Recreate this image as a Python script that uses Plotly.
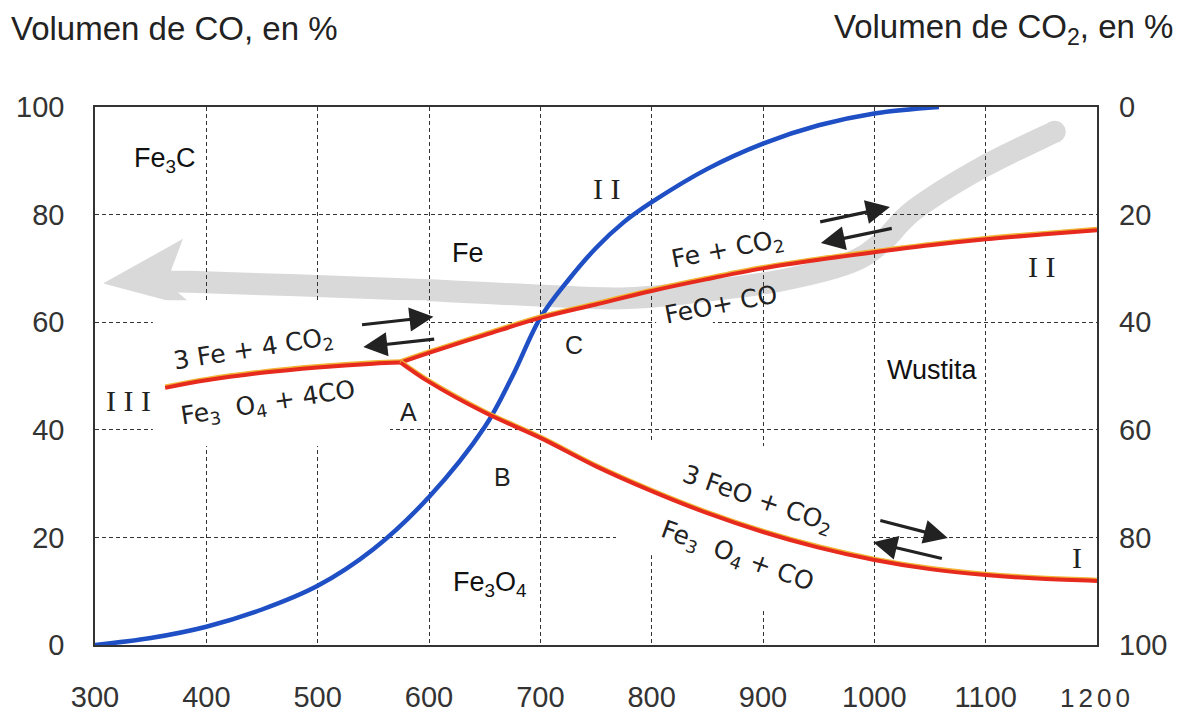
import plotly.graph_objects as go

# ---------------- data ----------------
x_ticks = [300, 400, 500, 600, 700, 800, 900, 1000, 1100, 1200]
x_ticktext = ["300", "400", "500", "600", "700", "800", "900", "1000", "1100",
              '<span style="font-size:26px;letter-spacing:4px">1200</span>']
y_ticks = [0, 20, 40, 60, 80, 100]

# Blue curve (II) - CO % vs temperature
t_blue = [300, 350, 400, 450, 500, 550, 600, 650, 675, 700, 725, 750, 775, 800, 850, 900, 950, 1000, 1058]
co_blue = [0, 1.3, 3.4, 6.6, 11, 17.8, 27.5, 40.5, 50.0, 60.8, 67.8, 73.8, 78.6, 82.3, 88.5, 93.2, 96.6, 98.8, 100]

# Red curve III (Fe3O4 / Fe)
t_red3 = [363, 400, 450, 500, 550, 574.5]
co_red3 = [47.8, 49.2, 50.6, 51.6, 52.3, 52.5]

# Red curve II (FeO / Fe)
t_red2 = [574.5, 600, 650, 700, 750, 800, 850, 900, 950, 1000, 1050, 1100, 1150, 1200]
co_red2 = [52.5, 54.3, 57.6, 60.8, 63.3, 65.8, 68.0, 70.0, 71.6, 73.0, 74.3, 75.4, 76.3, 77.1]

# Red curve I (Fe3O4 / FeO)
t_red1 = [574.5, 600, 650, 700, 750, 800, 850, 900, 950, 1000, 1050, 1100, 1150, 1200]
co_red1 = [52.5, 48.9, 43.2, 38.5, 33.2, 28.6, 24.5, 21.0, 18.1, 15.8, 14.1, 13.0, 12.3, 11.9]

# Grey process arrow (centre line, from tail to head)
t_grey = [1162, 1097, 1036, 1006, 977, 917, 856, 797, 746, 595, 475, 385, 365]
co_grey = [95.4, 88.8, 80.9, 74.7, 71.0, 67.8, 66.0, 64.7, 64.5, 66.0, 66.9, 67.5, 67.5]
t_grey_head = [311, 376.5, 367, 372, 385.5]
co_grey_head = [67.3, 74.9, 69.7, 65.6, 63.2]

# Reaction arrows (tail -> head)
arrows = [
    ((538.5, 59.5), (604, 61.0)), ((606, 56.9), (541, 55.4)),
    ((950, 78.6), (1014, 81.4)), ((1017, 77.5), (952, 74.7)),
    ((1004, 23.2), (1066, 19.9)), ((1062, 16.0), (999, 19.1)),
]

# Labels: (text, T, CO%, angle, font-kind)
labels = [
    ("Fe<sub>3</sub>C", 363, 90.1, 0, "sans"),
    ("Fe", 635, 72.9, 0, "sans"),
    ("Fe<sub>3</sub>O<sub>4</sub>", 655, 11.4, 0, "sans"),
    ("Wustita", 1052, 51.1, 0, "sans"),
    ("I I", 759.5, 84.9, 0, "serif"),
    ("I I", 1150, 70.3, 0, "serif"),
    ("I I I", 329.7, 45.5, 0, "serif"),
    ("I", 1182, 16.2, 0, "serif"),
    ("A", 581.4, 43.3, 0, "pt"),
    ("B", 666, 31.2, 0, "pt"),
    ("C", 729.8, 55.8, 0, "pt"),
    ("3 Fe + 4 CO<sub>2</sub>", 442, 54.8, -9, "rx"),
    ("Fe<sub>3</sub>  O<sub>4</sub> + 4CO", 455, 44.8, -9, "rx"),
    ("Fe + CO<sub>2</sub>", 869, 73.4, -11, "rx"),
    ("FeO+ CO", 862, 63.2, -11, "rx"),
    ("3 FeO + CO<sub>2</sub>", 895, 27.0, 19, "rx"),
    ("Fe<sub>3</sub>  O<sub>4</sub> + CO", 877, 16.4, 20, "rx"),
]

# white patches that interrupt the grid behind labels (T0, T1, CO0, CO1)
grid_gaps = [
    (352, 565, 37.0, 64.1),
    (565, 598, 55.8, 64.1),
    (804, 855, 57.1, 62.3),
    (886, 913, 69.9, 79.0),
    (880, 920, 6.5, 37.0),
    (768, 996, 18.0, 22.0),
    (795, 805, 16.7, 38.0),
]

# ---------------- figure ----------------
RED = "#e62a1e"
BLUE = "#1f4fc4"
GREY = "#d9d9d9"
SANS = "Liberation Sans, Arial, sans-serif"
SERIF = "Liberation Serif, Times New Roman, serif"
RX = "DejaVu Sans, sans-serif"

fig = go.Figure()


def catmull_path(xs, ys):
    pts = list(zip(xs, ys))
    d = f"M {pts[0][0]},{pts[0][1]}"
    for i in range(len(pts) - 1):
        p0 = pts[i - 1] if i > 0 else pts[i]
        p1 = pts[i]
        p2 = pts[i + 1]
        p3 = pts[i + 2] if i + 2 < len(pts) else pts[i + 1]
        c1 = (p1[0] + (p2[0] - p0[0]) / 6, p1[1] + (p2[1] - p0[1]) / 6)
        c2 = (p2[0] - (p3[0] - p1[0]) / 6, p2[1] - (p3[1] - p1[1]) / 6)
        d += f" C {c1[0]},{c1[1]} {c2[0]},{c2[1]} {p2[0]},{p2[1]}"
    return d


shapes = []
# grey band (below grid)
shapes.append(dict(type="path", xref="x", yref="y", layer="below",
                   path=catmull_path(t_grey, co_grey),
                   line=dict(color=GREY, width=22)))
shapes.append(dict(type="circle", xref="x", yref="y", layer="below",
                   xsizemode="pixel", ysizemode="pixel",
                   xanchor=t_grey[0], yanchor=co_grey[0],
                   x0=-11, x1=11, y0=-11, y1=11,
                   fillcolor=GREY, line=dict(width=0)))
head = "M " + " L ".join(f"{a},{b}" for a, b in zip(t_grey_head, co_grey_head)) + " Z"
shapes.append(dict(type="path", xref="x", yref="y", layer="below", path=head,
                   fillcolor=GREY, line=dict(color=GREY, width=3)))
for (x0, x1, y0, y1) in grid_gaps:
    shapes.append(dict(type="rect", xref="x", yref="y", layer="between",
                       x0=x0, x1=x1, y0=y0, y1=y1,
                       fillcolor="white", line=dict(width=0)))

fig.add_trace(go.Scatter(x=t_blue, y=co_blue, mode="lines",
                         line=dict(color=BLUE, width=4.5, shape="spline", smoothing=1),
                         showlegend=False, hoverinfo="skip"))
for tx, ty in [(t_red3, co_red3), (t_red2, co_red2), (t_red1, co_red1)]:
    fig.add_trace(go.Scatter(x=tx, y=[v + 0.25 for v in ty], mode="lines",
                             line=dict(color="#f2b233", width=4, shape="spline", smoothing=1),
                             showlegend=False, hoverinfo="skip"))
    fig.add_trace(go.Scatter(x=tx, y=ty, mode="lines",
                             line=dict(color=RED, width=4, shape="spline", smoothing=1),
                             showlegend=False, hoverinfo="skip"))
# invisible trace for the right axis
fig.add_trace(go.Scatter(x=[300], y=[0], yaxis="y2", mode="markers",
                         marker=dict(opacity=0), showlegend=False, hoverinfo="skip"))

ann = []
for (tail, hd) in arrows:
    ann.append(dict(x=hd[0], y=hd[1], ax=tail[0], ay=tail[1], xref="x", yref="y",
                    axref="x", ayref="y", text="", showarrow=True,
                    arrowhead=2, arrowsize=1.5, arrowwidth=3.2, arrowcolor="#222",
                    standoff=0, startstandoff=0))
fonts = {
    "sans": dict(family=SANS, size=27, color="#111"),
    "serif": dict(family=SERIF, size=30, color="#222"),
    "pt": dict(family=SANS, size=25, color="#222"),
    "rx": dict(family=RX, size=25, color="#222"),
}
for (txt, tx, ty, ang, kind) in labels:
    ann.append(dict(x=tx, y=ty, xref="x", yref="y", text=txt, showarrow=False,
                    textangle=ang, font=fonts[kind]))
ann.append(dict(x=-0.086, y=1.145, xref="paper", yref="paper", xanchor="left",
                yanchor="middle", showarrow=False, text="Volumen de CO, en %",
                font=dict(family=SANS, size=33, color="#222")))
ann.append(dict(x=1.078, y=1.145, xref="paper", yref="paper", xanchor="right",
                yanchor="middle", showarrow=False, text="Volumen de CO<sub>2</sub>, en %",
                font=dict(family=SANS, size=33, color="#222")))

grid = dict(showgrid=True, gridcolor="#333", gridwidth=1, griddash="4px,3px")
fig.update_layout(
    width=1176, height=705,
    margin=dict(l=87, r=87, t=99, b=68, autoexpand=False),
    paper_bgcolor="white", plot_bgcolor="white",
    shapes=shapes, annotations=ann,
    xaxis=dict(range=[300, 1200], tickvals=x_ticks, ticktext=x_ticktext,
               showline=True, linecolor="#333", linewidth=1.5, mirror=True,
               ticks="", ticklabelstandoff=25, zeroline=False, automargin=False,
               tickfont=dict(family=SANS, size=29, color="#333"), **grid),
    yaxis=dict(range=[0, 100], tickvals=y_ticks, showline=True, linecolor="#333",
               linewidth=1.5, mirror=True, ticks="", ticklabelstandoff=23,
               zeroline=False, automargin=False,
               tickfont=dict(family=SANS, size=29, color="#333"), **grid),
    yaxis2=dict(range=[100, 0], tickvals=y_ticks, overlaying="y", side="right",
                showgrid=False, zeroline=False, ticks="", ticklabelstandoff=21,
                automargin=False,
                tickfont=dict(family=SANS, size=29, color="#333")),
)

fig.write_html("out.html")
